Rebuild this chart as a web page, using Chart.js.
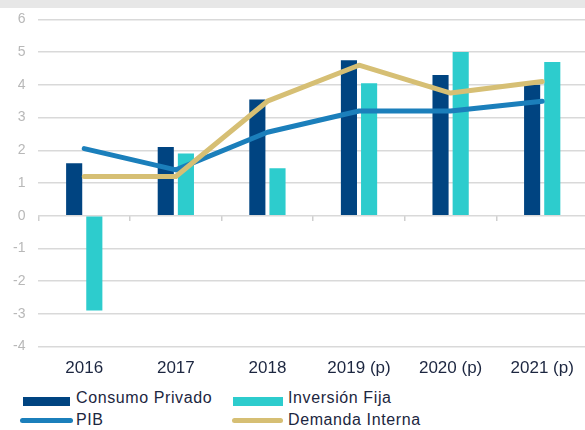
<!DOCTYPE html>
<html>
<head>
<meta charset="utf-8">
<script src="https://cdn.jsdelivr.net/npm/chart.js@4"></script>
<style>
  body { margin:0; background:#fff; font-family:"Liberation Sans", Arial, sans-serif; }
  #wrap { position:relative; width:585px; height:430px; overflow:hidden; }
  #band { position:absolute; left:0; top:0; width:585px; height:8px; background:#e7e7e7; z-index:2; }
  #box { position:absolute; left:0; top:-2px; width:590px; height:385px; }
  .lg { position:absolute; font-size:16px; letter-spacing:0.6px; color:#1c2640; white-space:nowrap; line-height:18px; }
  .sw { position:absolute; }
</style>
</head>
<body>
<div id="wrap">
  <div id="band"></div>
  <div id="box"><canvas id="chart"></canvas></div>
  <div id="legend"></div>
</div>
<script>
const years = ['2016', '2017', '2018', '2019 (p)', '2020 (p)', '2021 (p)'];
const consumoPrivado = [1.6, 2.1, 3.55, 4.75, 4.3, 4.0];
const inversionFija = [-2.9, 1.9, 1.45, 4.05, 5.0, 4.7];
const pib = [2.05, 1.4, 2.55, 3.2, 3.2, 3.5];
const demandaInterna = [1.2, 1.2, 3.5, 4.6, 3.75, 4.1];
const yTicks = [-4, -3, -2, -1, 0, 1, 2, 3, 4, 5, 6];

const cDark = '#004481';
const cCyan = '#2dcccd';
const cBlue = '#1b7fbb';
const cGold = '#d6bf74';

// legend as html, two columns
const legendItems = [
  {label: 'Consumo Privado', color: cDark, type: 'bar', x: 23, w: 47, textX: 76, y: 389},
  {label: 'Inversión Fija', color: cCyan, type: 'bar', x: 233, w: 50, textX: 288, y: 389},
  {label: 'PIB', color: cBlue, type: 'line', x: 20, w: 53, textX: 76, y: 411},
  {label: 'Demanda Interna', color: cGold, type: 'line', x: 232, w: 51, textX: 288, y: 411}
];
const lg = document.getElementById('legend');
legendItems.forEach(it => {
  const sw = document.createElement('div');
  sw.className = 'sw';
  sw.style.left = it.x + 'px';
  sw.style.width = it.w + 'px';
  sw.style.background = it.color;
  if (it.type === 'bar') {
    sw.style.top = (it.y + 8) + 'px';
    sw.style.height = '9px';
  } else {
    sw.style.top = (it.y + 7) + 'px';
    sw.style.height = '5px';
    sw.style.borderRadius = '3px';
  }
  lg.appendChild(sw);
  const t = document.createElement('div');
  t.className = 'lg';
  t.style.left = it.textX + 'px';
  t.style.top = it.y + 'px';
  t.textContent = it.label;
  lg.appendChild(t);
});

const ctx = document.getElementById('chart').getContext('2d');
const chart = new Chart(ctx, {
  data: {
    labels: years,
    datasets: [
      {type: 'line', label: 'PIB', data: pib, borderColor: cBlue, borderWidth: 5,
       pointRadius: 0, tension: 0, borderJoinStyle: 'round', borderCapStyle: 'round', order: 1},
      {type: 'line', label: 'Demanda Interna', data: demandaInterna, borderColor: cGold, borderWidth: 5,
       pointRadius: 0, tension: 0, borderJoinStyle: 'round', borderCapStyle: 'round', order: 0},
      {type: 'bar', label: 'Consumo Privado', data: consumoPrivado, backgroundColor: cDark,
       categoryPercentage: 0.44, barPercentage: 0.8, order: 2},
      {type: 'bar', label: 'Inversión Fija', data: inversionFija, backgroundColor: cCyan,
       categoryPercentage: 0.44, barPercentage: 0.8, order: 3}
    ]
  },
  options: {
    responsive: true,
    maintainAspectRatio: false,
    animation: false,
    layout: {padding: {top: 0, right: 2, left: 0, bottom: 0}},
    plugins: {
      legend: {display: false},
      tooltip: {enabled: false}
    },
    scales: {
      x: {
        grid: {display: false},
        border: {display: false},
        ticks: {color: '#1c2640', font: {family: 'Liberation Sans', size: 17}, padding: 4}
      },
      x2: {
        type: 'category',
        labels: years,
        position: {y: 0},
        offset: true,
        grid: {display: true, drawOnChartArea: false, offset: true, tickLength: 5, color: '#cfcfcf', lineWidth: 1.5},
        border: {display: false},
        ticks: {display: false}
      },
      y: {
        min: -4,
        max: 6,
        afterBuildTicks: axis => { axis.ticks = yTicks.map(v => ({value: v})); },
        grid: {color: '#d9d9d9', lineWidth: 1.5, drawTicks: false},
        border: {display: false},
        ticks: {color: '#b8b8b8', font: {family: 'Liberation Sans', size: 14}, padding: 13}
      }
    }
  }
});
</script>
</body>
</html>
